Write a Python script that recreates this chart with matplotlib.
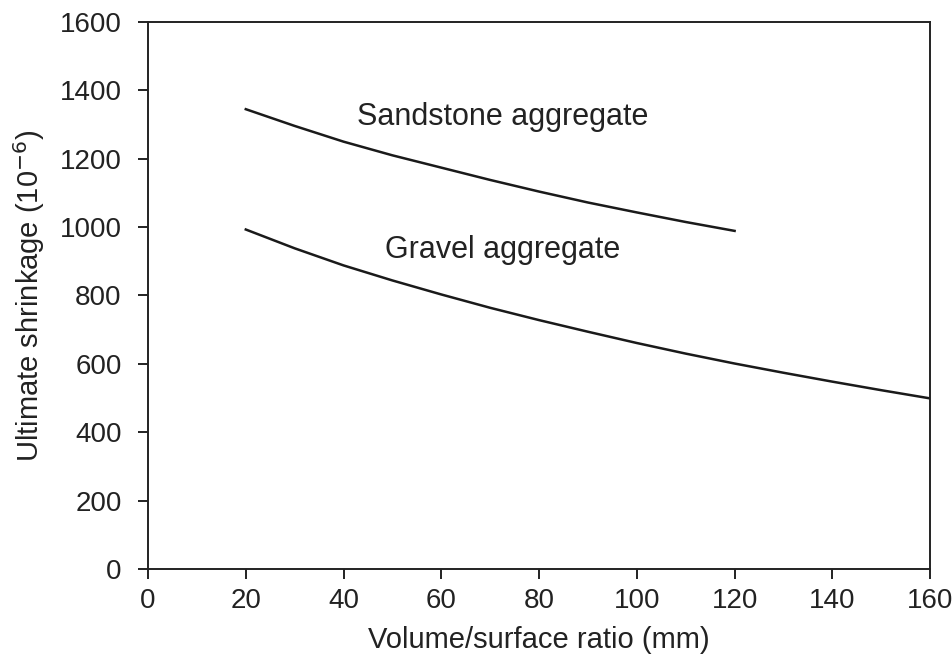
import matplotlib
matplotlib.use('Agg')
import matplotlib.pyplot as plt

plt.rcParams['font.family'] = ['Liberation Sans', 'DejaVu Sans']

# volume/surface ratio (mm)
vs_sandstone = [20, 30, 40, 50, 60, 70, 80, 90, 100, 110, 120]
shrink_sandstone = [1345, 1296, 1250, 1210, 1174, 1138, 1104, 1072, 1043, 1015, 989]

vs_gravel = [20, 30, 40, 50, 60, 70, 80, 90, 100, 110, 120, 130, 140, 150, 160]
shrink_gravel = [993, 938, 888, 844, 803, 764, 728, 694, 661, 630, 601, 574, 548, 523, 499]

x_ticks = [0, 20, 40, 60, 80, 100, 120, 140, 160]
y_ticks = [0, 200, 400, 600, 800, 1000, 1200, 1400, 1600]


def plotar():
    fig = plt.figure(figsize=(9.52, 6.59), dpi=100)
    ax = fig.add_axes([0.1555, 0.1366, 0.8215, 0.83])

    ax.plot(vs_sandstone, shrink_sandstone, color='#1a1a1a', lw=1.8)
    ax.plot(vs_gravel, shrink_gravel, color='#1a1a1a', lw=1.8)

    ax.text(72.6, 1322, 'Sandstone aggregate', fontsize=22, ha='center', va='center', color='#222222')
    ax.text(72.6, 933, 'Gravel aggregate', fontsize=22, ha='center', va='center', color='#222222')

    ax.set_xlim(0, 160)
    ax.set_ylim(0, 1600)
    ax.set_xticks(x_ticks)
    ax.set_yticks(y_ticks)
    ax.tick_params(direction='out', length=7, width=1.4, labelsize=20, colors='#222222')
    ax.tick_params(axis='y', pad=12)
    ax.tick_params(axis='x', pad=7)
    for s in ax.spines.values():
        s.set_linewidth(1.4)
        s.set_color('#222222')

    ax.set_xlabel('Volume/surface ratio (mm)', fontsize=21, color='#222222', labelpad=8)
    ax.set_ylabel('Ultimate shrinkage (10$^{-6}$)', fontsize=21, color='#222222', labelpad=9)

    fig.savefig('out.png', dpi=100)


if __name__ == '__main__':
    plotar()
